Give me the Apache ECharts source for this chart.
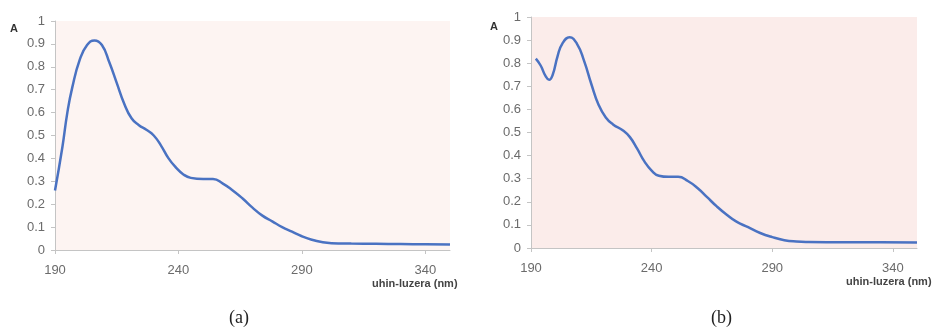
<!DOCTYPE html>
<html><head><meta charset="utf-8">
<script src="https://cdn.jsdelivr.net/npm/echarts@6/dist/echarts.min.js"></script>
<style>html,body{margin:0;padding:0;background:#fff}#c{width:941px;height:329px}</style>
</head><body><div id="c"></div>
<script>
const xTicks = [190, 240, 290, 340];
const yTicks = [0, 0.1, 0.2, 0.3, 0.4, 0.5, 0.6, 0.7, 0.8, 0.9, 1];
const wavelengthA = [190,193,195,197,200,203,206,209,212,215,218,221,224,227,230,233,236,239,242,245,250,254,258,262,266,270,274,278,282,286,290,294,298,302,310,320,330,340,350];
const absorbA = [0.26,0.45,0.60,0.71,0.83,0.895,0.915,0.895,0.82,0.73,0.64,0.575,0.545,0.525,0.50,0.455,0.40,0.36,0.33,0.315,0.31,0.31,0.29,0.26,0.225,0.185,0.15,0.125,0.10,0.08,0.06,0.045,0.035,0.03,0.028,0.027,0.026,0.025,0.024];
const wavelengthB = [192,194,196,197.5,199,201,203,206,209,212,215,218,221,224,228,231,234,237,240,243,247,251,255,259,263,267,271,275,280,285,290,295,300,305,320,335,350];
const absorbB = [0.82,0.79,0.745,0.728,0.75,0.83,0.885,0.912,0.885,0.81,0.71,0.62,0.565,0.535,0.51,0.48,0.43,0.375,0.335,0.313,0.308,0.308,0.29,0.26,0.22,0.18,0.145,0.115,0.09,0.065,0.047,0.034,0.028,0.026,0.025,0.025,0.024];
const yName = 'A';
const xName = 'uhin-luzera (nm)';
const captions = ['(a)', '(b)'];

const pairs = (xs, ys) => xs.map((x, i) => [x, ys[i]]);
const axisColor = '#c4c4c4';
const labelColor = '#6b6b6b';
const font = 'Liberation Sans';

function xAxis(gi) {
  return {
    type: 'value', gridIndex: gi, min: xTicks[0], max: 350, interval: xTicks[1] - xTicks[0],
    axisLine: { show: true, lineStyle: { color: axisColor, width: 1 } },
    axisTick: { show: true, length: 4, customValues: xTicks, lineStyle: { color: axisColor } },
    splitLine: { show: false },
    axisLabel: { color: labelColor, fontSize: 13, fontFamily: font, margin: 14, customValues: xTicks,
      formatter: v => xTicks.includes(v) ? String(v) : '' }
  };
}
function yAxis(gi) {
  return {
    type: 'value', gridIndex: gi, min: 0, max: 1, interval: 0.1,
    axisLine: { show: true, lineStyle: { color: axisColor, width: 1 } },
    axisTick: { show: true, length: 4, lineStyle: { color: axisColor } },
    splitLine: { show: false },
    axisLabel: { color: labelColor, fontSize: 13, fontFamily: font, margin: 10,
      formatter: v => { const t = yTicks.find(k => Math.abs(k - v) < 1e-9); return t === undefined ? '' : String(t); } }
  };
}
function series(gi, data) {
  return {
    type: 'line', xAxisIndex: gi, yAxisIndex: gi, data: data, smooth: 0.5,
    showSymbol: false, lineStyle: { color: '#4a72c2', width: 2.5 }, silent: true
  };
}
const chart = echarts.init(document.getElementById('c'), null, { renderer: 'canvas' });
chart.setOption({
  animation: false,
  backgroundColor: '#ffffff',
  grid: [
    { left: 55, top: 21, width: 395, height: 229, show: true, backgroundColor: '#fdf4f2', borderWidth: 0 },
    { left: 531, top: 17, width: 386, height: 231, show: true, backgroundColor: '#fbeceA', borderWidth: 0 }
  ],
  xAxis: [xAxis(0), xAxis(1)],
  yAxis: [yAxis(0), yAxis(1)],
  series: [series(0, pairs(wavelengthA, absorbA)), series(1, pairs(wavelengthB, absorbB))],
  graphic: [
    { type: 'text', left: 10, top: 23, style: { text: yName, font: 'bold 11px ' + font, fill: '#333' } },
    { type: 'text', left: 490, top: 21, style: { text: yName, font: 'bold 11px ' + font, fill: '#333' } },
    { type: 'text', left: 372, top: 278, style: { text: xName, font: 'bold 11px ' + font, fill: '#444' } },
    { type: 'text', left: 846, top: 276, style: { text: xName, font: 'bold 11px ' + font, fill: '#444' } },
    { type: 'text', left: 229, top: 309, style: { text: captions[0], font: '18px Liberation Serif', fill: '#222' } },
    { type: 'text', left: 711, top: 309, style: { text: captions[1], font: '18px Liberation Serif', fill: '#222' } }
  ]
});
</script></body></html>
